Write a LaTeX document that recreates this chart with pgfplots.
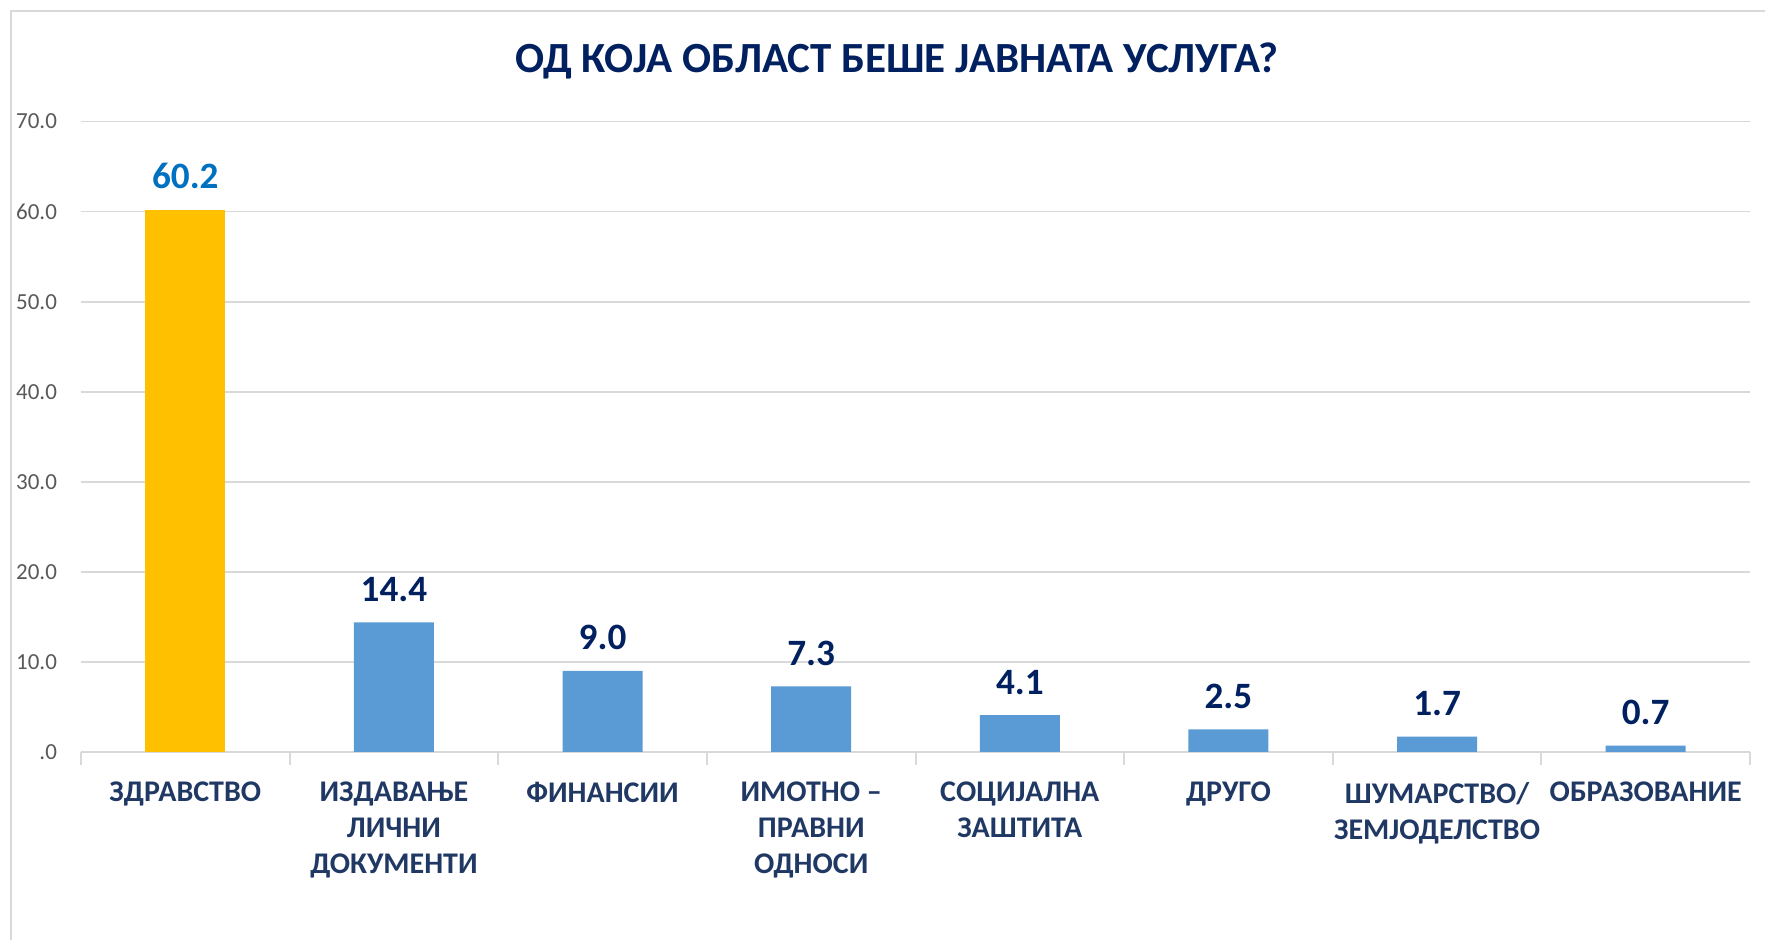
\documentclass[border=0pt]{standalone}
\usepackage{pgfplots}
\pgfplotsset{compat=1.18}
\usepackage{fontspec}
\setmainfont{Carlito}
\definecolor{ttl}{HTML}{002060}
\definecolor{lbl}{HTML}{203864}
\definecolor{gridc}{HTML}{D9D9D9}
\definecolor{yel}{HTML}{FFC000}
\definecolor{blu}{HTML}{5B9BD5}
\definecolor{lblue}{HTML}{0070C0}
\definecolor{tickc}{HTML}{595959}
\begin{document}
\begin{tikzpicture}[x=1pt,y=1pt]
\useasboundingbox (0,0) rectangle (882.5,470);
\fill[white] (0,0) rectangle (882.5,470);
\draw[gridc, line width=1pt] (5.6,0) -- (5.6,464.4) -- (882.5,464.4);
\node[anchor=base, font=\fontsize{21.5}{25}\selectfont\bfseries, text=ttl] at (448.5,433.5) {ОД КОЈА ОБЛАСТ БЕШЕ ЈАВНАТА УСЛУГА?};
\begin{axis}[
  at={(40.5pt,94pt)}, anchor=south west,
  scale only axis, width=834.5pt, height=315.2pt,
  xmin=-0.5, xmax=7.5, ymin=0, ymax=70,
  clip=false,
  axis lines*=left,
  x axis line style={draw=gridc, line width=1pt},
  y axis line style={draw=none},
  ybar,
  ymajorgrids,
  grid style={draw=gridc, line width=0.8pt},
  ytick={0,10,...,70},
  yticklabels={.0,10.0,20.0,30.0,40.0,50.0,60.0,70.0},
  yticklabel style={font=\fontsize{11.5}{13}\selectfont, text=tickc, xshift=-8.5pt},
  ytick style={draw=none},
  xtick={0,...,7},
  xticklabels={ЗДРАВСТВО, ИЗДАВАЊЕ\\ЛИЧНИ\\ДОКУМЕНТИ, ФИНАНСИИ, ИМОТНО –\\ПРАВНИ\\ОДНОСИ, СОЦИЈАЛНА\\ЗАШТИТА, ДРУГО, ШУМАРСТВО/\\ЗЕМЈОДЕЛСТВО, ОБРАЗОВАНИЕ},
  xticklabel style={font=\fontsize{15}{18}\selectfont\bfseries, text=lbl, align=center, yshift=-11.5pt},
  major tick length=0pt,
  minor xtick={-0.5,0.5,...,7.5},
  minor tick length=6.5pt,
  tick align=outside,
  minor tick style={draw=gridc, line width=1pt},
  bar width=40pt,
  /pgf/number format/assume math mode=true,
  nodes near coords={\pgfmathprintnumber[fixed,fixed zerofill,precision=1]{\pgfplotspointmeta}},
  nodes near coords style={font=\fontsize{18.6}{20}\selectfont\bfseries, anchor=base, inner sep=0pt, yshift=10.5pt},
]
\addplot[bar shift=0pt, fill=yel, draw=none, every node near coord/.append style={text=lblue}] coordinates {(0,60.2)};
\addplot[bar shift=0pt, fill=blu, draw=none, every node near coord/.append style={text=ttl}] coordinates {(1,14.4) (2,9.0) (3,7.3) (4,4.1) (5,2.5) (6,1.7) (7,0.7)};
\end{axis}
\end{tikzpicture}
\end{document}
